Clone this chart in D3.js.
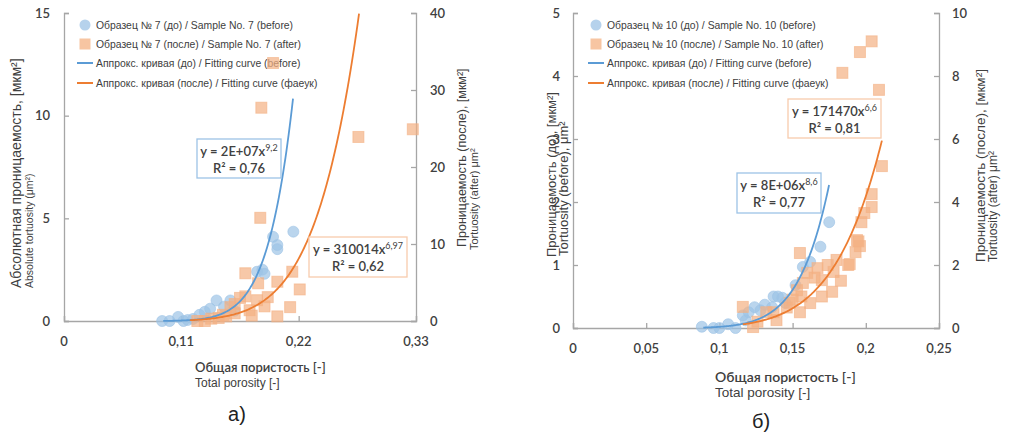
<!DOCTYPE html>
<html>
<head>
<meta charset="utf-8">
<script src="https://cdn.jsdelivr.net/npm/d3@7"></script>
<style>
  body { margin: 0; background: #fff; }
  svg { display: block; }
</style>
</head>
<body>
<svg id="chart" width="1009" height="436"></svg>
<script>
// ---- data: panel a) sample 7 ----
const aBeforeX = [0.092, 0.099, 0.107, 0.112, 0.116, 0.121, 0.132, 0.137, 0.143, 0.127, 0.150, 0.156, 0.160, 0.181, 0.186, 0.188, 0.196, 0.200, 0.200, 0.215]
const aBeforeY = [0.0, 0.0, 0.2, 0.0, 0.05, 0.1, 0.45, 0.6, 1.0, 0.3, 0.7, 1.0, 0.5, 2.4, 2.5, 2.3, 4.1, 3.7, 3.5, 4.35]
const aAfterX = [0.125, 0.132, 0.138, 0.145, 0.149, 0.152, 0.156, 0.160, 0.165, 0.170, 0.174, 0.176, 0.181, 0.182, 0.184, 0.188, 0.191, 0.185, 0.196, 0.200, 0.200, 0.212, 0.214, 0.221, 0.276, 0.327, 0.160, 0.170]
const aAfterY = [0.0, 0.0, 0.3, 0.4, 0.8, 0.6, 1.8, 2.2, 3.0, 6.2, 1.4, 0.7, 2.7, 4.9, 13.4, 1.9, 3.1, 27.7, 33.5, 5.1, 0.6, 1.8, 6.4, 4.1, 23.9, 24.9, 1.0, 3.2]
const aFitBefore = [1.52e7, 9.2]
const aFitAfter = [310014, 6.97]
const aFitBeforeRange = [0.093, 0.2147]
const aFitAfterRange = [0.118, 0.2766]
const aXTicks = [0, 0.11, 0.22, 0.33]
const aYLeftTicks = [0, 5, 10, 15]
const aYRightTicks = [0, 10, 20, 30, 40]

// ---- data: panel б) sample 10 ----
const bBeforeX = [0.088, 0.096, 0.100, 0.106, 0.111, 0.116, 0.124, 0.120, 0.131, 0.137, 0.140, 0.143, 0.136, 0.128, 0.152, 0.157, 0.162, 0.169, 0.175, 0.118, 0.145]
const bBeforeY = [0.02, 0.0, 0.0, 0.06, 0.0, 0.2, 0.33, 0.25, 0.37, 0.5, 0.5, 0.48, 0.33, 0.28, 0.68, 0.97, 1.05, 1.29, 1.68, 0.12, 0.4]
const bAfterX = [0.116, 0.123, 0.126, 0.132, 0.139, 0.137, 0.146, 0.148, 0.155, 0.156, 0.157, 0.153, 0.160, 0.162, 0.165, 0.170, 0.167, 0.170, 0.174, 0.177, 0.178, 0.180, 0.183, 0.188, 0.189, 0.193, 0.194, 0.196, 0.195, 0.197, 0.199, 0.204, 0.204, 0.211, 0.209, 0.184, 0.196, 0.204, 0.155, 0.150]
const bAfterY = [0.67, 0.03, 0.2, 0.5, 0.25, 0.5, 0.65, 0.8, 0.5, 1.0, 1.43, 1.2, 1.75, 0.79, 1.6, 1.52, 1.9, 1.0, 2.0, 1.15, 1.78, 2.16, 1.5, 2.0, 2.03, 2.41, 2.79, 2.6, 2.75, 3.36, 3.65, 3.84, 4.25, 5.14, 7.56, 8.1, 8.76, 9.1, 2.38, 0.9]
const bFitBefore = [7.38e6, 8.6]
const bFitAfter = [171470, 6.6]
const bFitBeforeRange = [0.089, 0.1749]
const bFitAfterRange = [0.116, 0.211]
const bXTicks = [0, 0.05, 0.1, 0.15, 0.2, 0.25]
const bYLeftTicks = [0, 1, 2, 3, 4, 5]
const bYRightTicks = [0, 2, 4, 6, 8, 10]

const blue = '#5b9bd5'
const orange = '#ed7d31'
const axisColor = '#a6a6a6'
const textColor = '#404040'
const tickFont = 'Lato, "Open Sans", sans-serif'
const arial = '"Liberation Sans", Arial, sans-serif'

const svg = d3.select('#chart')
const fmt = d => String(d).replace('.', ',')

function powerCurve (fit, range) {
  const n = 120
  return d3.range(n + 1).map(i => {
    const x = range[0] + (range[1] - range[0]) * i / n
    return [x, fit[0] * Math.pow(x, fit[1])]
  })
}

function drawPanel (p) {
  const x = d3.scaleLinear().domain([p.xTicks[0], p.xTicks[p.xTicks.length - 1]]).range([p.left, p.right])
  const yL = d3.scaleLinear().domain([0, p.yLeftTicks[p.yLeftTicks.length - 1]]).range([p.bottom, p.top])
  const yR = d3.scaleLinear().domain([0, p.yRightTicks[p.yRightTicks.length - 1]]).range([p.bottom, p.top])

  // axes (ticks point inward like the excel original)
  const gx = svg.append('g').attr('transform', `translate(0,${p.bottom})`)
    .call(d3.axisTop(x).tickValues(p.xTicks).tickSize(5).tickFormat(''))
  const gl = svg.append('g').attr('transform', `translate(${p.left},0)`)
    .call(d3.axisRight(yL).tickValues(p.yLeftTicks).tickSize(5).tickFormat(''))
  const gr = svg.append('g').attr('transform', `translate(${p.right},0)`)
    .call(d3.axisLeft(yR).tickValues(p.yRightTicks).tickSize(5).tickFormat(''))
  ;[gx, gl, gr].forEach(g => {
    g.selectAll('.domain').attr('stroke', axisColor).attr('stroke-width', 1.3)
    g.selectAll('.tick line').attr('stroke', axisColor).attr('stroke-width', 1.3)
  })

  // tick labels
  svg.append('g').selectAll('text').data(p.xTicks).join('text')
    .attr('x', d => x(d)).attr('y', p.xLabelY)
    .attr('text-anchor', 'middle')
    .attr('font-family', tickFont).attr('font-size', 13).attr('font-weight', 600)
    .attr('fill', textColor).text(fmt)
  svg.append('g').selectAll('text').data(p.yLeftTicks).join('text')
    .attr('x', p.left - p.yLabelGap).attr('y', d => yL(d)).attr('dy', '0.35em')
    .attr('text-anchor', 'end')
    .attr('font-family', tickFont).attr('font-size', 13).attr('font-weight', 600)
    .attr('fill', textColor).text(fmt)
  svg.append('g').selectAll('text').data(p.yRightTicks).join('text')
    .attr('x', p.right + p.yLabelGap).attr('y', d => yR(d)).attr('dy', '0.35em')
    .attr('text-anchor', 'start')
    .attr('font-family', tickFont).attr('font-size', 13).attr('font-weight', 600)
    .attr('fill', textColor).text(fmt)

  // legend
  const lg = svg.append('g').attr('font-family', arial).attr('font-size', 10.4).attr('fill', textColor)
  const lx = p.legendX
  lg.append('circle').attr('cx', lx).attr('cy', 25).attr('r', 5.5)
    .attr('fill', '#9dc3e6').attr('fill-opacity', 0.75)
  lg.append('rect').attr('x', lx - 5.5).attr('y', 38.5).attr('width', 11).attr('height', 11)
    .attr('fill', '#f4b183').attr('fill-opacity', 0.75)
  lg.append('line').attr('x1', lx - 8).attr('x2', lx + 8).attr('y1', 63).attr('y2', 63)
    .attr('stroke', blue).attr('stroke-width', 2)
  lg.append('line').attr('x1', lx - 8).attr('x2', lx + 8).attr('y1', 83).attr('y2', 83)
    .attr('stroke', orange).attr('stroke-width', 2)
  p.legend.forEach((t, i) => {
    lg.append('text').attr('x', lx + 11).attr('y', [25, 44, 63, 83][i]).attr('dy', '0.35em').text(t)
  })

  // points
  svg.append('g').selectAll('circle').data(d3.zip(p.beforeX, p.beforeY)).join('circle')
    .attr('cx', d => x(d[0])).attr('cy', d => yL(d[1])).attr('r', 5.5)
    .attr('fill', '#9dc3e6').attr('fill-opacity', 0.7)
    .attr('stroke', '#9dc3e6').attr('stroke-opacity', 0.6)
  svg.append('g').selectAll('rect').data(d3.zip(p.afterX, p.afterY)).join('rect')
    .attr('x', d => x(d[0]) - 5.5).attr('y', d => yR(d[1]) - 5.5)
    .attr('width', 11).attr('height', 11)
    .attr('fill', '#f4b183').attr('fill-opacity', 0.7)
    .attr('stroke', '#f4b183').attr('stroke-opacity', 0.6)

  // fitting curves
  svg.append('path').datum(powerCurve(p.fitBefore, p.fitBeforeRange))
    .attr('d', d3.line().x(d => x(d[0])).y(d => yL(d[1])))
    .attr('fill', 'none').attr('stroke', blue).attr('stroke-width', 1.8)
  svg.append('path').datum(powerCurve(p.fitAfter, p.fitAfterRange))
    .attr('d', d3.line().x(d => x(d[0])).y(d => yR(d[1])))
    .attr('fill', 'none').attr('stroke', orange).attr('stroke-width', 1.8)

  // equation boxes
  p.boxes.forEach(b => {
    const g = svg.append('g')
    g.append('rect').attr('x', b.x).attr('y', b.y).attr('width', b.w).attr('height', b.h)
      .attr('fill', '#fff').attr('stroke', b.stroke).attr('stroke-width', 1.3)
    const cx = b.x + b.w / 2
    const t1 = g.append('text').attr('x', cx).attr('y', b.y + 17).attr('text-anchor', 'middle')
      .attr('font-family', tickFont).attr('font-size', 13).attr('font-weight', 600).attr('fill', textColor)
    t1.append('tspan').text(b.eq)
    t1.append('tspan').attr('dy', -5).attr('font-size', 9).attr('font-weight', 400).text(b.pow)
    const t2 = g.append('text').attr('x', cx).attr('y', b.y + 34).attr('text-anchor', 'middle')
      .attr('font-family', tickFont).attr('font-size', 13).attr('font-weight', 600).attr('fill', textColor)
    t2.text(b.r2)
  })

  // axis titles
  const xt = svg.append('g').attr('fill', textColor)
  xt.append('text').attr('x', p.xTitleX).attr('y', p.xTitleY)
    .attr('font-family', tickFont).attr('font-size', p.xTitleSize[0]).attr('font-weight', 600).text('Общая пористость [-]')
  xt.append('text').attr('x', p.xTitleX).attr('y', p.xTitleY + 15)
    .attr('font-family', arial).attr('font-size', p.xTitleSize[1]).text('Total porosity [-]')

  // rotated y titles: each line is [baseline x, start y, text, font size]
  p.yTitles.forEach(l => {
    svg.append('text')
      .attr('transform', `translate(${l[0]},${l[1]}) rotate(-90)`)
      .attr('font-family', arial).attr('font-size', l[3]).attr('fill', textColor)
      .text(l[2])
  })

  svg.append('text').attr('x', p.captionX).attr('y', p.captionY)
    .attr('text-anchor', 'middle').attr('font-family', arial).attr('font-size', 20)
    .attr('fill', '#222').text(p.caption)
}

drawPanel({
  left: 64, right: 416, top: 13, bottom: 321,
  xTicks: aXTicks, yLeftTicks: aYLeftTicks, yRightTicks: aYRightTicks,
  xLabelY: 346, yLabelGap: 14,
  beforeX: aBeforeX, beforeY: aBeforeY, afterX: aAfterX, afterY: aAfterY,
  fitBefore: aFitBefore, fitAfter: aFitAfter, fitBeforeRange: aFitBeforeRange, fitAfterRange: aFitAfterRange,
  legendX: 85,
  legend: ['Образец № 7 (до) / Sample No. 7 (before)', 'Образец № 7 (после) / Sample No. 7 (after)',
    'Аппрокс. кривая (до) / Fitting curve (before)', 'Аппрокс. кривая (после) / Fitting curve (фаеук)'],
  boxes: [
    { x: 197, y: 139, w: 84, h: 39, stroke: '#9dc3e6', eq: 'y = 2E+07x', pow: '9,2', r2: 'R² = 0,76' },
    { x: 309, y: 237, w: 98, h: 40, stroke: '#f8cbad', eq: 'y = 310014x', pow: '6,97', r2: 'R² = 0,62' }
  ],
  xTitleX: 195, xTitleY: 372, xTitleSize: [13, 12],
  yTitles: [
    [21, 288, 'Абсолютная проницаемость, [мкм²]', 14],
    [33, 288, 'Absolute tortuosity (μm²)', 10.5],
    [466, 247, 'Проницаемость (после), [мкм²]', 12.5],
    [478, 250, 'Tortuosity (after) μm²', 11]
  ],
  caption: 'а)', captionX: 237, captionY: 421
})

drawPanel({
  left: 573, right: 939, top: 13, bottom: 328,
  xTicks: bXTicks, yLeftTicks: bYLeftTicks, yRightTicks: bYRightTicks,
  xLabelY: 353, yLabelGap: 13,
  beforeX: bBeforeX, beforeY: bBeforeY, afterX: bAfterX, afterY: bAfterY,
  fitBefore: bFitBefore, fitAfter: bFitAfter, fitBeforeRange: bFitBeforeRange, fitAfterRange: bFitAfterRange,
  legendX: 596,
  legend: ['Образец № 10 (до) / Sample No. 10 (before)', 'Образец № 10 (после) / Sample No. 10 (after)',
    'Аппрокс. кривая (до) / Fitting curve (before)', 'Аппрокс. кривая (после) / Fitting curve (фаеук)'],
  boxes: [
    { x: 788, y: 99, w: 93, h: 39, stroke: '#f8cbad', eq: 'y = 171470x', pow: '6,6', r2: 'R² = 0,81' },
    { x: 737, y: 173, w: 84, h: 40, stroke: '#9dc3e6', eq: 'y = 8E+06x', pow: '8,6', r2: 'R² = 0,77' }
  ],
  xTitleX: 715, xTitleY: 382, xTitleSize: [14, 13.5],
  yTitles: [
    [556, 257, 'Проницаемость (до), [мкм²]', 13],
    [568, 256, 'Tortuosity (before), μm²', 13],
    [985, 262, 'Проницаемость (после), [мкм²]', 13.5],
    [997, 262, 'Tortuosity (after) μm²', 12]
  ],
  caption: 'б)', captionX: 761, captionY: 428
})
</script>
</body>
</html>
